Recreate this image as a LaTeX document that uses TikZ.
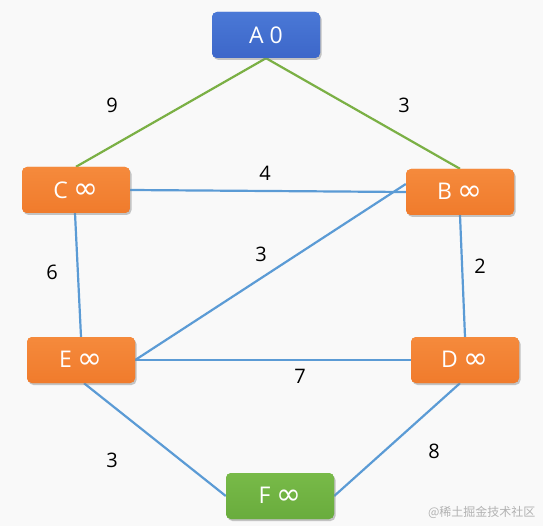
\documentclass[tikz,border=0pt]{standalone}
\usepackage{fontspec}
\usepackage{graphicx}
\setmainfont{Open Sans}
\newfontfamily\cjkfont{Noto Sans CJK SC}
\newfontfamily\symfont{DejaVu Sans}
\newcommand{\infsym}{\raisebox{-0.5pt}{\scalebox{1.3}{\symfont ∞}}}
\usetikzlibrary{shadows}
\definecolor{bg}{HTML}{F9F9F9}
\definecolor{nblue}{HTML}{3D67C9}
\definecolor{nblueT}{HTML}{4A78D6}
\definecolor{norange}{HTML}{F07B2C}
\definecolor{norangeT}{HTML}{F58A3C}
\definecolor{ngreen}{HTML}{69AC3D}
\definecolor{ngreenT}{HTML}{78BA48}
\definecolor{egreen}{HTML}{7BB045}
\definecolor{eblue}{HTML}{5B9BD5}
\tikzset{
  vbox/.style={rounded corners=5pt, minimum width=108pt, minimum height=46pt,
    inner sep=0pt, text=white, font=\fontsize{23}{27}\selectfont,
    drop shadow={shadow xshift=1.5pt, shadow yshift=-2pt, opacity=0.25}},
  bluebox/.style={vbox, top color=nblueT, bottom color=nblue},
  orangebox/.style={vbox, top color=norangeT, bottom color=norange},
  greenbox/.style={vbox, top color=ngreenT, bottom color=ngreen},
  gedge/.style={draw=egreen, line width=2.2pt},
  bedge/.style={draw=eblue, line width=2.2pt},
  wlabel/.style={font=\fontsize{20}{24}\selectfont, text=black}
}
\begin{document}
\begin{tikzpicture}[x=1pt,y=-1pt]
\fill[bg] (0,0) rectangle (543,526);
\useasboundingbox (0,0) rectangle (543,526);
% node positions (drawn once to name, again on top of edges)
\node[bluebox]   (A) at (266,35)  {A 0};
\node[orangebox] (C) at (76,190)  {C \infsym};
\node[orangebox] (B) at (460,192) {B \infsym};
\node[orangebox] (E) at (81,360)  {E \infsym};
\node[orangebox] (D) at (465,360) {D \infsym};
\node[greenbox]  (F) at (280,496) {F \infsym};
\draw[gedge] (A.south) -- (C.north);
\draw[gedge] (A.south) -- (B.north);
\draw[bedge] (C.east) -- (B.west);
\draw[bedge] ([xshift=-1pt]C.south) -- (E.north);
\draw[bedge] (B.south) -- (D.north);
\draw[bedge] (E.east) -- ([yshift=8pt]B.west);
\draw[bedge] (E.east) -- (D.west);
\draw[bedge] ([xshift=3pt]E.south) -- (F.west);
\draw[bedge] ([xshift=-5pt]D.south) -- (F.east);
% redraw nodes on top of the edges
\node[bluebox]   (A2) at (A)  {A 0};
\node[orangebox] (C2) at (C)  {C \infsym};
\node[orangebox] (B2) at (B) {B \infsym};
\node[orangebox] (E2) at (E)  {E \infsym};
\node[orangebox] (D2) at (D) {D \infsym};
\node[greenbox]  (F2) at (F) {F \infsym};
% labels
\node[wlabel] (l9) at (112,105) {9};
\node[wlabel] (l3a) at (404,105) {3};
\node[wlabel] (l4) at (265,173) {4};
\node[wlabel] (l3b) at (261,254) {3};
\node[wlabel] (l6) at (52,272) {6};
\node[wlabel] (l2) at (480,266) {2};
\node[wlabel] (l7) at (300,376) {7};
\node[wlabel] (l3c) at (112,460) {3};
\node[wlabel] (l8) at (434,451) {8};
\node[text=black!30, font=\cjkfont\fontsize{12}{14}\selectfont, anchor=east] (wm) at (539,512) {@稀土掘金技术社区};
\end{tikzpicture}
\end{document}
